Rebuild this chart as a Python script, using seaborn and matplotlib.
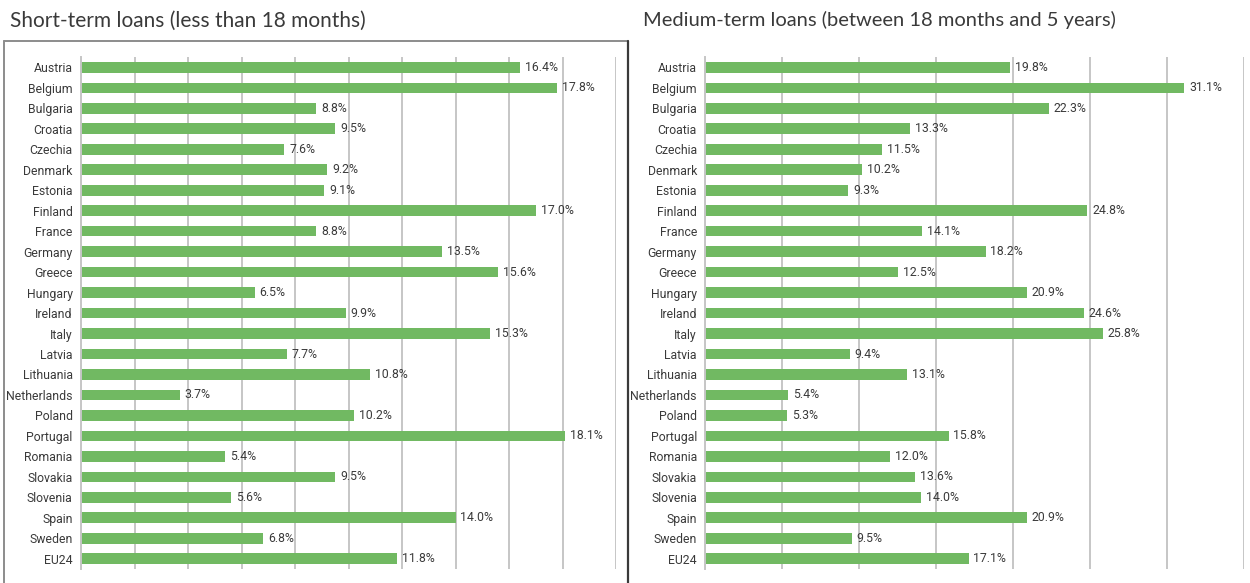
import matplotlib
matplotlib.use("Agg")
import matplotlib.pyplot as plt
import matplotlib.lines as mlines
import seaborn as sns
import pandas as pd

countries = ["Austria", "Belgium", "Bulgaria", "Croatia", "Czechia", "Denmark",
             "Estonia", "Finland", "France", "Germany", "Greece", "Hungary",
             "Ireland", "Italy", "Latvia", "Lithuania", "Netherlands", "Poland",
             "Portugal", "Romania", "Slovakia", "Slovenia", "Spain", "Sweden", "EU24"]

short_term = [16.4, 17.8, 8.8, 9.5, 7.6, 9.2, 9.1, 17.0, 8.8, 13.5, 15.6, 6.5,
              9.9, 15.3, 7.7, 10.8, 3.7, 10.2, 18.1, 5.4, 9.5, 5.6, 14.0, 6.8, 11.8]

medium_term = [19.8, 31.1, 22.3, 13.3, 11.5, 10.2, 9.3, 24.8, 14.1, 18.2, 12.5, 20.9,
               24.6, 25.8, 9.4, 13.1, 5.4, 5.3, 15.8, 12.0, 13.6, 14.0, 20.9, 9.5, 17.1]

titles = ["Short-term loans (less than 18 months)",
          "Medium-term loans (between 18 months and 5 years)"]

sns.set_theme(style="white")
plt.rcParams["font.family"] = ["Roboto", "DejaVu Sans"]

BAR = "#71b962"
TEXT = "#3a3a3a"
GRID = "#c6c6c6"

fig = plt.figure(figsize=(12.5, 5.83), dpi=100)

df = pd.DataFrame({"country": countries, "short": short_term, "medium": medium_term})

panels = [("short", [0.0648, 0.024, 0.428, 0.878], 20, 2),
          ("medium", [0.5642, 0.024, 0.4312, 0.878], 35, 5)]

for col, rect, xmax, step in panels:
    ax = fig.add_axes(rect)
    sns.barplot(data=df, x=col, y="country", orient="h", color=BAR,
                saturation=1, width=0.52, linewidth=0, ax=ax)
    ax.set_xlim(0, xmax)
    ax.set_ylim(len(countries) - 0.5, -0.5)
    ax.set_xticks(range(0, xmax + 1, step))
    ax.set_xticklabels([])
    ax.tick_params(axis="x", length=0)
    ax.tick_params(axis="y", length=0, pad=6, labelsize=8.8, labelcolor=TEXT)
    ax.set_xlabel("")
    ax.set_ylabel("")
    ax.grid(axis="x", color=GRID, linewidth=1.4)
    ax.set_axisbelow(True)
    for s in ["top", "right", "bottom"]:
        ax.spines[s].set_visible(False)
    ax.spines["left"].set_color(GRID)
    ax.spines["left"].set_linewidth(1.4)
    for y, v in enumerate(df[col]):
        ax.annotate(f"{v:.1f}%", xy=(v, y), xytext=(3.5, 0), textcoords="offset points",
                    ha="left", va="center", fontsize=8.8, color=TEXT)

fig.text(0.008, 0.965, titles[0], ha="left", va="center", fontsize=15,
         color=TEXT, family=["Lato", "DejaVu Sans"])
fig.text(0.5145, 0.965, titles[1], ha="left", va="center", fontsize=14.5,
         color=TEXT, family=["Lato", "DejaVu Sans"])

# panel frame lines
top = 1 - 41 / 583
fig.add_artist(mlines.Line2D([0.0035, 0.5025], [top, top],
                             transform=fig.transFigure, color="#8c8c8c", linewidth=1.4))
fig.add_artist(mlines.Line2D([0.0035, 0.0035], [0, top],
                             transform=fig.transFigure, color="#8c8c8c", linewidth=1.4))
fig.add_artist(mlines.Line2D([0.5025, 0.5025], [0, top],
                             transform=fig.transFigure, color="#3a3a3a", linewidth=1.6))

fig.savefig("out.png", dpi=100, facecolor="white")
